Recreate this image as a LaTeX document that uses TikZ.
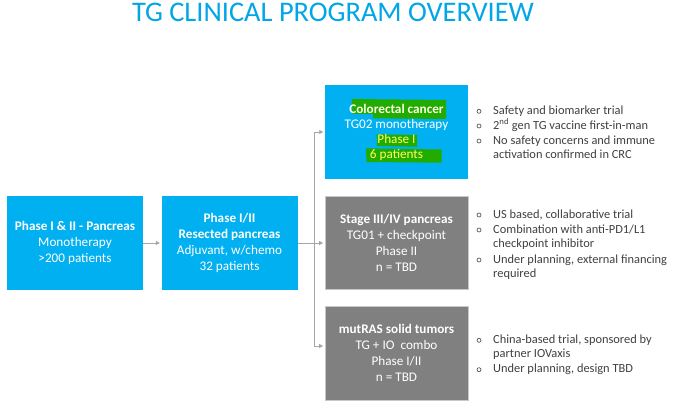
\documentclass[tikz,border=0pt]{standalone}
\usepackage{fontspec}
\setmainfont{Carlito}
\usetikzlibrary{arrows.meta}
\definecolor{tgblue}{RGB}{0,176,240}
\definecolor{titleblue}{RGB}{0,166,230}
\definecolor{boxgray}{RGB}{128,128,128}
\definecolor{bordergray}{RGB}{200,200,200}
\definecolor{linegray}{RGB}{166,166,166}
\definecolor{txtgray}{RGB}{64,64,64}
\definecolor{hlgreen}{RGB}{34,172,0}
\definecolor{hlyellow}{RGB}{255,255,90}
\tikzset{
  bluebox/.style={rectangle, fill=tgblue, draw=none, text=white, align=center,
    font=\fontsize{13.2}{16}\selectfont, inner sep=0pt},
  graybox/.style={rectangle, fill=boxgray, draw=bordergray, line width=0.8pt, text=white, align=center,
    font=\fontsize{13.2}{16}\selectfont, inner sep=0pt},
  conn/.style={draw=linegray, line width=0.8pt},
  arr/.style={conn, -{Triangle[length=4pt,width=4pt]}, shorten >=1.5pt},
  bullettext/.style={anchor=base west, inner sep=0pt, align=left, text=txtgray,
    font=\fontsize{12.4}{14.6}\selectfont},
  bulletdot/.style={draw=txtgray, line width=0.6pt}
}
\begin{document}
\begin{tikzpicture}[x=1pt,y=-1pt]
\useasboundingbox (0,0) rectangle (690,417);
\fill[white] (0,0) rectangle (690,417);

% title
\node[anchor=base, inner sep=0pt, text=titleblue, font=\fontsize{28.4}{32}\selectfont] (title) at (333,22) {TG CLINICAL PROGRAM OVERVIEW};

% left boxes
\node[bluebox, minimum width=136pt, minimum height=94pt] (b1) at (75,243)
  {\textbf{Phase I \& II - Pancreas}\\Monotherapy\\>200 patients};
\node[bluebox, minimum width=136pt, minimum height=94pt] (b2) at (229.5,243)
  {\textbf{Phase I/II}\\\textbf{Resected pancreas}\\Adjuvant, w/chemo\\32 patients};

% right boxes
\node[bluebox, minimum width=143pt, minimum height=94pt] (b3) at (396.5,132) {};
\fill[hlgreen] (351.7,99) -- (446,100) -- (446,119) -- (373,118.3) -- (373,114) -- (352.7,114) -- cycle;
\fill[hlgreen] (376.7,134.3) -- (417.3,135) -- (417,146.7) -- (377,146) -- cycle;
\fill[hlgreen] (366,148.3) -- (441.7,149.5) -- (441.7,162.7) -- (366.5,162) -- cycle;
\node[anchor=center, align=center, inner sep=0pt, font=\fontsize{13.2}{15}\selectfont, text=white] (b3t) at (396.5,132)
  {\textbf{\color{white!85!hlyellow}Colorectal cancer}\\TG02 monotherapy\\{\color{hlyellow}Phase I}\\{\color{hlyellow}6 patients}};

\node[graybox, minimum width=143pt, minimum height=93pt] (b4) at (396.5,242.5)
  {\textbf{Stage III/IV pancreas}\\TG01 + checkpoint\\Phase II\\n = TBD};
\node[graybox, minimum width=143pt, minimum height=94pt] (b5) at (396.5,353)
  {\textbf{mutRAS solid tumors}\\TG + IO\ \ combo\\Phase I/II\\n = TBD};

% connectors
\coordinate (j) at (314,243);
\draw[arr] (b1.east) -- (b2.west);
\draw[conn] (b2.east) -- (j);
\draw[arr] (j) |- (b3.west);
\draw[arr] (j) -- (b4.west |- j);
\draw[arr] (j) |- ([yshift=7pt]b5.west);

% bullets box 3 (multi-line nodes anchored at their last baseline)
\foreach \y in {114.3,129,144} \draw[bulletdot] (479,\y-3) circle (2pt);
\node[bullettext] (t31) at (493,114.3) {Safety and biomarker trial};
\node[bullettext] (t32) at (493,129) {2\textsuperscript{nd} gen TG vaccine first-in-man};
\node[bullettext] (t33) at (493,158.6) {No safety concerns and immune\\activation confirmed in CRC};

% bullets box 4
\foreach \y in {218,233,263} \draw[bulletdot] (479,\y-3) circle (2pt);
\node[bullettext] (t41) at (493,218) {US based, collaborative trial};
\node[bullettext] (t42) at (493,247.6) {Combination with anti-PD1/L1\\checkpoint inhibitor};
\node[bullettext] (t43) at (493,277.6) {Under planning, external financing\\required};

% bullets box 5
\foreach \y in {343.3,372.7} \draw[bulletdot] (479,\y-3) circle (2pt);
\node[bullettext] (t51) at (493,357.9) {China-based trial, sponsored by\\partner IOVaxis};
\node[bullettext] (t52) at (493,372.7) {Under planning, design TBD};
\end{tikzpicture}
\end{document}
